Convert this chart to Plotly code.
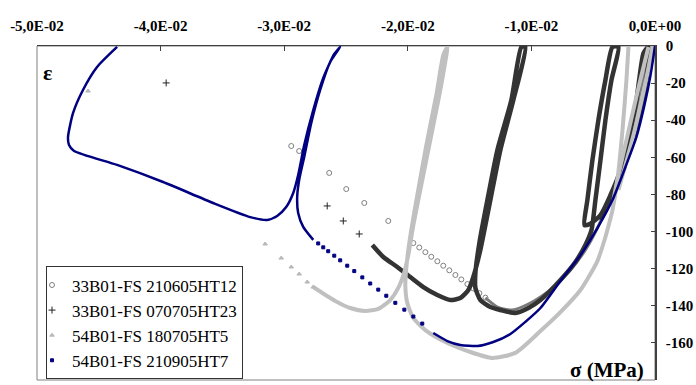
import plotly.graph_objects as go

SERIF = "Liberation Serif"

# ---------------- axis ticks ----------------
x_tick_vals = [-0.05, -0.04, -0.03, -0.02, -0.01, 0.0]
x_tick_text = ["-5,0E-02", "-4,0E-02", "-3,0E-02", "-2,0E-02", "-1,0E-02", "0,0E+00"]
y_tick_vals = [0, -20, -40, -60, -80, -100, -120, -140, -160, -180]

# ---------------- series names ----------------
names = ["33B01-FS 210605HT12", "33B01-FS 070705HT23", "54B01-FS 180705HT5", "54B01-FS 210905HT7"]

# ---- 33B01-FS 210605HT12 (open circles, medium grey) ----
ht12_pts_sigma = [-0.02943, -0.02879, -0.02636, -0.02498, -0.02352, -0.02158,
                  -0.01955, -0.01907, -0.01858, -0.01810, -0.01761, -0.01713, -0.01664,
                  -0.01615, -0.01567, -0.01518, -0.01470, -0.01421, -0.01372]
ht12_pts_eps = [-53.9, -56.6, -68.4, -77.1, -84.6, -94.3,
                -106.2, -108.6, -111.1, -113.6, -116.0, -118.4, -120.9,
                -123.4, -125.8, -128.3, -130.7, -133.2, -135.6]
ht12_line_sigma = [-0.01372, -0.01275, -0.01154, -0.01008, -0.00846, -0.00684, -0.00563,
                   -0.00466, -0.00385, -0.00304, -0.00223, -0.00150, -0.00085, -0.00036]
ht12_line_eps = [-135.8, -140.7, -142.3, -138.5, -131.5, -120.7, -109.9,
                 -98.1, -85.7, -72.2, -55.0, -34.5, -14.0, -0.5]

# ---- 33B01-FS 070705HT23 (crosses, dark grey) ----
ht23_pts_sigma = [-0.03955, -0.02652, -0.02522, -0.02393]
ht23_pts_eps = [-19.9, -86.2, -94.3, -101.3]
ht23_line_sigma = [-0.02287, -0.02198, -0.02085, -0.01980, -0.01874, -0.01761, -0.01656, -0.01575,
                   -0.01510, -0.01470, -0.01413, -0.01332, -0.01251, -0.01146, -0.01049,
                   -0.01081, -0.01162, -0.01275, -0.01356, -0.01421, -0.01453, -0.01453,
                   -0.01413, -0.01332, -0.01251, -0.01130, -0.01024, -0.00927, -0.00765,
                   -0.00644, -0.00563, -0.00514, -0.00482, -0.00441, -0.00401, -0.00352,
                   -0.00296, -0.00344, -0.00401, -0.00458, -0.00506, -0.00547, -0.00571,
                   -0.00530, -0.00441, -0.00360, -0.00279, -0.00215, -0.00150, -0.00093,
                   -0.00053, -0.00069, -0.00117, -0.00182, -0.00263, -0.00360, -0.00441]
ht23_line_eps = [-107.2, -113.7, -119.1, -124.5, -129.9, -134.2, -136.9, -135.8,
                 -131.5, -124.5, -109.9, -83.0, -56.0, -29.1, -0.5,
                 -0.5, -29.1, -56.0, -83.0, -106.2, -122.3, -130.4,
                 -136.9, -140.7, -142.3, -143.9, -141.2, -136.9, -126.1,
                 -116.4, -107.2, -99.2, -83.0, -61.4, -39.9, -18.3,
                 -0.5, -0.5, -18.3, -39.9, -61.4, -83.0, -96.5,
                 -96.0, -91.1, -80.3, -66.8, -50.7, -29.1, -3.8,
                 -0.5, -18.3, -34.5, -50.7, -66.8, -83.0, -93.8]

# ---- 54B01-FS 180705HT5 (triangles, light grey) ----
ht5_pts_sigma = [-0.04587, -0.03154, -0.03024, -0.02943, -0.02879, -0.02814, -0.02765]
ht5_pts_eps = [-24.3, -106.7, -114.3, -119.1, -122.9, -127.2, -129.9]
ht5_line_sigma = [-0.02765, -0.02692, -0.02587, -0.02466, -0.02344, -0.02239, -0.02142, -0.02077,
                  -0.02028, -0.01996, -0.01955, -0.01899, -0.01818, -0.01737, -0.01680,
                  -0.01713, -0.01769, -0.01850, -0.01923, -0.01972, -0.02004, -0.02020,
                  -0.02004, -0.01955, -0.01858, -0.01696, -0.01494, -0.01316, -0.01130,
                  -0.00927, -0.00765, -0.00603, -0.00466, -0.00401, -0.00368, -0.00344,
                  -0.00304, -0.00263, -0.00231, -0.00215,
                  None,
                  -0.00344, -0.00296, -0.00231, -0.00166, -0.00109, -0.00053,
                  None,
                  -0.00020, -0.00069, -0.00117, -0.00174, -0.00239, -0.00296]
ht5_line_eps = [-129.9, -133.1, -137.4, -141.2, -142.8, -141.7, -136.9, -130.4,
                -121.8, -112.6, -96.5, -77.6, -50.7, -23.7, -0.5,
                -4.9, -26.4, -53.4, -80.3, -99.2, -114.3, -128.8,
                -138.5, -146.6, -153.1, -159.5, -164.9, -168.1, -165.4,
                -153.6, -143.4, -131.5, -115.9, -102.9, -94.9, -88.4,
                -72.2, -45.3, -18.3, -0.5,
                None,
                -85.7, -69.5, -50.7, -31.8, -15.6, -0.5,
                None,
                -0.5, -17.2, -31.8, -48.0, -64.1, -77.6]

# ---- 54B01-FS 210905HT7 (small squares, navy) ----
ht7_pts_sigma = [-0.02725, -0.02684, -0.02644, -0.02595, -0.02547, -0.02490, -0.02433, -0.02368,
                 -0.02304, -0.02239, -0.02174, -0.02101, -0.02028, -0.01955, -0.01883]
ht7_pts_eps = [-106.4, -108.5, -110.6, -113.0, -115.5, -118.4, -121.3, -124.7,
               -128.0, -131.3, -134.6, -138.4, -142.1, -145.8, -149.6]
ht7_line_sigma = [0.0, -0.00036, -0.00085, -0.00150, -0.00239, -0.00344, -0.00466, -0.00603,
                  -0.00765, -0.00927, -0.01049, -0.01170, -0.01308, -0.01437, -0.01575,
                  -0.01680, -0.01794,
                  None,
                  -0.02765, -0.02846, -0.02887, -0.02895, -0.02879, -0.02838, -0.02781,
                  -0.02709, -0.02628, -0.02547, -0.02595, -0.02684, -0.02765, -0.02838,
                  -0.02887, -0.02927, -0.02984, -0.03057, -0.03138, -0.03275, -0.03575,
                  -0.03980, -0.04352, -0.04700, -0.04741, -0.04749, -0.04708, -0.04628,
                  -0.04514, -0.04352]
ht7_line_eps = [0.0, -15.6, -31.8, -49.0, -65.2, -83.0, -98.1, -112.7,
                -126.6, -141.2, -148.7, -155.2, -159.5, -161.7, -161.1,
                -159.0, -154.7,
                None,
                -104.5, -97.5, -90.0, -81.4, -72.2, -59.8, -41.5,
                -23.7, -8.6, -0.5, -4.3, -17.2, -34.5, -53.4,
                -69.5, -79.2, -86.8, -91.6, -93.8, -92.2, -84.6,
                -73.3, -64.1, -56.6, -53.4, -49.0, -36.1, -23.7,
                -11.3, -0.5]

series = [
    dict(name=names[0], ls=ht12_line_sigma, le=ht12_line_eps, ps=ht12_pts_sigma, pe=ht12_pts_eps,
         lcolor="#7a7a7a", lwidth=3, mcolor="#808080", symbol="circle-open", msize=5),
    dict(name=names[1], ls=ht23_line_sigma, le=ht23_line_eps, ps=ht23_pts_sigma, pe=ht23_pts_eps,
         lcolor="#333333", lwidth=4.5, mcolor="#222222", symbol="cross-thin-open", msize=5),
    dict(name=names[2], ls=ht5_line_sigma, le=ht5_line_eps, ps=ht5_pts_sigma, pe=ht5_pts_eps,
         lcolor="#c0c0c0", lwidth=4, mcolor="#b8b8b8", symbol="triangle-up", msize=4),
    dict(name=names[3], ls=ht7_line_sigma, le=ht7_line_eps, ps=ht7_pts_sigma, pe=ht7_pts_eps,
         lcolor="#000080", lwidth=2.5, mcolor="#000080", symbol="square", msize=3),
]

fig = go.Figure()
for s in series:
    fig.add_trace(go.Scatter(x=s["ls"], y=s["le"], mode="lines", name=s["name"],
                             legendgroup=s["name"], showlegend=False, connectgaps=False,
                             line=dict(color=s["lcolor"], width=s["lwidth"], shape="spline", smoothing=0.6),
                             hoverinfo="skip"))
    fig.add_trace(go.Scatter(x=s["ps"], y=s["pe"], mode="markers", name=s["name"],
                             legendgroup=s["name"], showlegend=True,
                             marker=dict(symbol=s["symbol"], size=s["msize"], color=s["mcolor"],
                                         line=dict(color=s["mcolor"], width=1))))

fig.update_layout(
    template="none",
    width=696, height=385,
    margin=dict(l=37, r=41, t=46, b=5, autoexpand=False),
    paper_bgcolor="white", plot_bgcolor="white",
    legend=dict(x=0.0146, y=0.34, xanchor="left", yanchor="top",
                bgcolor="white", bordercolor="#333333", borderwidth=1,
                font=dict(family=SERIF, size=17, color="black"),
                indentation=-15, tracegroupgap=0, itemwidth=30),
    shapes=[dict(type="rect", xref="paper", yref="paper", x0=0, x1=1, y0=0, y1=1,
                 line=dict(color="#808080", width=1), layer="below")],
    annotations=[
        dict(text="<b>ε</b>", xref="paper", yref="paper", x=0.006, y=0.922, xanchor="left", yanchor="middle",
             showarrow=False, font=dict(family=SERIF, size=22, color="black")),
        dict(text="<b>σ (MPa)</b>", xref="paper", yref="paper", x=0.985, y=0.03, xanchor="right", yanchor="middle",
             showarrow=False, font=dict(family=SERIF, size=21, color="black")),
    ],
)
fig.update_xaxes(range=[-0.05, 0], side="top", tickvals=x_tick_vals,
                 ticktext=["<b>%s</b>" % t for t in x_tick_text], automargin=False,
                 ticks="inside", ticklen=5, tickcolor="#404040", tickwidth=1,
                 showline=True, linecolor="#404040", linewidth=1, mirror=False,
                 showgrid=False, zeroline=False, ticklabelstandoff=8,
                 tickfont=dict(family=SERIF, size=15, color="black"))
fig.update_yaxes(range=[-180, 0], side="right", tickvals=y_tick_vals,
                 ticktext=["<b>%d</b>" % v for v in y_tick_vals], automargin=False,
                 ticks="inside", ticklen=4, tickcolor="#404040", tickwidth=1,
                 showline=True, linecolor="#404040", linewidth=1.5, mirror=False,
                 showgrid=False, zeroline=False, ticklabelstandoff=6,
                 tickfont=dict(family=SERIF, size=15, color="black"))

fig.write_html("out.html")
